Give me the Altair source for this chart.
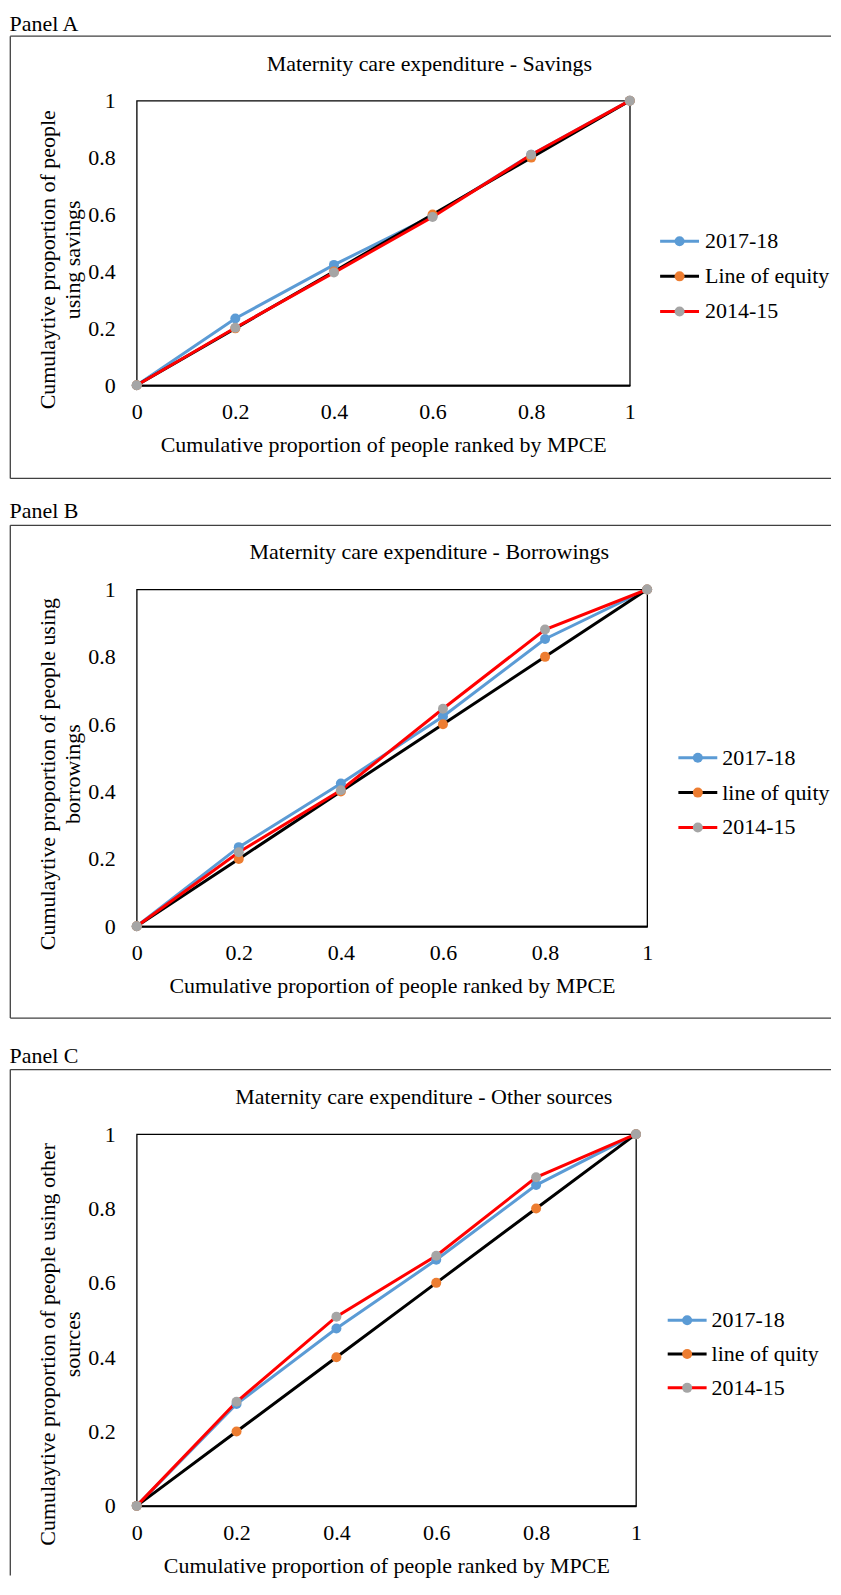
import altair as alt
import pandas as pd

FONT = "Liberation Serif"
FS = 22

# ---------------- data ----------------
x_vals = [0, 0.2, 0.4, 0.6, 0.8, 1.0]
tick_vals = [0, 0.2, 0.4, 0.6, 0.8, 1.0]

labels_a = ["2017-18", "Line of equity", "2014-15"]
labels_bc = ["2017-18", "line of quity", "2014-15"]

a_2017 = [0, 0.235, 0.423, 0.595, 0.81, 1]
a_equity = [0, 0.2, 0.4, 0.6, 0.8, 1]
a_2014 = [0, 0.202, 0.396, 0.591, 0.81, 1]

b_2017 = [0, 0.235, 0.424, 0.623, 0.853, 1]
b_equity = [0, 0.2, 0.4, 0.6, 0.8, 1]
b_2014 = [0, 0.22, 0.404, 0.646, 0.881, 1]

c_2017 = [0, 0.274, 0.477, 0.662, 0.863, 1]
c_equity = [0, 0.2, 0.4, 0.6, 0.8, 1]
c_2014 = [0, 0.28, 0.509, 0.673, 0.884, 1]

line_colors = ["#5B9BD5", "#000000", "#FF0000"]
marker_colors = ["#5B9BD5", "#ED7D31", "#A5A5A5"]

x_title = "Cumulative proportion of people ranked by MPCE"

RIGHT = 696.3  # right edge of each panel, relative to plot left


def one_row(val="x"):
    return pd.DataFrame({"t": [val]})


def panel(series, labels, title, plabel, ytitle, g):
    rows = []
    for lab, ys in zip(labels, series):
        for xv, yv in zip(x_vals, ys):
            rows.append({"x": xv, "y": yv, "series": lab, "series_pt": lab})
    df = pd.DataFrame(rows)

    xenc = alt.X(
        "x:Q",
        scale=alt.Scale(domain=[0, 1], nice=False, zero=False),
        axis=alt.Axis(
            values=tick_vals, format="~g", grid=False, ticks=False, tickSize=0,
            domainColor="black", domainWidth=2, labelPadding=16.7, labelFlush=False,
            labelOverlap=False,
            title=x_title, titleY=66.3, titleBaseline="alphabetic",
        ),
    )
    yenc = alt.Y(
        "y:Q",
        scale=alt.Scale(domain=[0, 1], nice=False, zero=False),
        axis=alt.Axis(
            values=tick_vals, format="~g", grid=False, ticks=False, tickSize=0,
            domain=False, labelPadding=21.5, labelOverlap=False,
            title=ytitle, titleX=-89.2, titleY=g["yty"], titleBaseline="middle",
            titleAlign="center", titleAngle=270, titleLineHeight=24.5,
        ),
    )

    lines = alt.Chart(df).mark_line(strokeWidth=3).encode(
        x=xenc, y=yenc,
        stroke=alt.Stroke(
            "series:N", sort=labels,
            scale=alt.Scale(range=line_colors),
            legend=alt.Legend(
                orient="none", legendX=g["lx"], legendY=g["ly"], title=None,
                symbolType="M-3.9,0L3.9,0", symbolSize=100, symbolStrokeWidth=3,
                labelOpacity=0, labelOffset=g["lo"], rowPadding=g["rp"], padding=0,
                zindex=0,
            ),
        ),
    )
    points = alt.Chart(df).mark_circle(size=100, opacity=1).encode(
        x=xenc, y=yenc,
        fill=alt.Fill(
            "series_pt:N", sort=labels,
            scale=alt.Scale(range=marker_colors),
            legend=alt.Legend(
                orient="none", legendX=g["lx"], legendY=g["ly"], title=None,
                symbolType="circle", symbolSize=100, symbolStrokeWidth=3,
                symbolStrokeColor="transparent", symbolOpacity=1,
                labelOffset=g["lo"], rowPadding=g["rp"], padding=0, zindex=1,
            ),
        ),
    )

    region = alt.Chart(one_row()).mark_rect(fill="white", fillOpacity=0).encode(
        x=alt.value(-127.7), x2=alt.value(RIGHT),
        y=alt.value(g["ry"][0]), y2=alt.value(g["ry"][1]),
    )
    box_color = "#404040"
    box = [
        alt.Chart(one_row()).mark_rule(color=box_color, strokeWidth=1.3).encode(
            x=alt.value(-126.7), x2=alt.value(RIGHT - 0.3), y=alt.value(g["bt"])),
        alt.Chart(one_row()).mark_rule(color=box_color, strokeWidth=1.3).encode(
            x=alt.value(-126.7), y=alt.value(g["bt"]), y2=alt.value(g["bb"])),
    ]
    if g.get("bottom", True):
        box.append(
            alt.Chart(one_row()).mark_rule(color=box_color, strokeWidth=1.3).encode(
                x=alt.value(-126.7), x2=alt.value(RIGHT - 0.3), y=alt.value(g["bb"])))

    plabel_t = alt.Chart(one_row(plabel)).mark_text(
        align="left", baseline="alphabetic", font=FONT, fontSize=FS, color="black"
    ).encode(text="t:N", x=alt.value(-127.4), y=alt.value(g["ply"]))
    title_t = alt.Chart(one_row(title)).mark_text(
        align="center", baseline="alphabetic", font=FONT, fontSize=FS, color="black"
    ).encode(text="t:N", x=alt.value(g["tx"]), y=alt.value(g["ty"]))

    layer = alt.layer(region, *box, plabel_t, title_t, lines, points).properties(
        width=g["W"], height=g["H"]
    ).resolve_scale(stroke="independent", fill="independent")
    return layer


geo_a = dict(W=494.3, H=285.3, ry=(-89.5, 397), bt=-64.7, bb=378.7, ply=-70,
             tx=293.3, ty=-30, yty=159, lx=533.2, ly=129.9, rp=13.2, lo=14.5)
geo_b = dict(W=511.7, H=337.6, ry=(-90.9, 441.6), bt=-64.3, bb=429.6, ply=-71.4,
             tx=293.3, ty=-30.3, yty=184.6, lx=551.5, ly=157.7, rp=12.9, lo=13.5)
geo_c = dict(W=500.5, H=372.6, ry=(-101.9, 443), bt=-64.8, bb=442.5, ply=-71,
             tx=287.8, ty=-30, yty=210.2, lx=540.8, ly=175.5, rp=11.9, lo=13.5,
             bottom=False)

pa = panel([a_2017, a_equity, a_2014], labels_a,
           "Maternity care expenditure - Savings", "Panel A",
           ["Cumulaytive proportion of people", "using savings"], geo_a)
pb = panel([b_2017, b_equity, b_2014], labels_bc,
           "Maternity care expenditure - Borrowings", "Panel B",
           ["Cumulaytive proportion of people using", "borrowings"], geo_b)
pc = panel([c_2017, c_equity, c_2014], labels_bc,
           "Maternity care expenditure - Other sources", "Panel C",
           ["Cumulaytive proportion of people using other", "sources"], geo_c)

chart = alt.vconcat(pa, pb, pc, spacing=0).resolve_scale(
    x="independent", y="independent", stroke="independent", fill="independent"
).resolve_legend(stroke="independent", fill="independent").properties(
    padding=0, background="white"
).configure_view(
    stroke="black", strokeWidth=1.3
).configure_axis(
    labelFont=FONT, labelFontSize=FS, labelColor="black",
    titleFont=FONT, titleFontSize=FS, titleColor="black", titleFontWeight="normal",
).configure_legend(
    labelFont=FONT, labelFontSize=FS, labelColor="black",
)

chart.save("out.html", embed_options={"renderer": "svg", "actions": False})
